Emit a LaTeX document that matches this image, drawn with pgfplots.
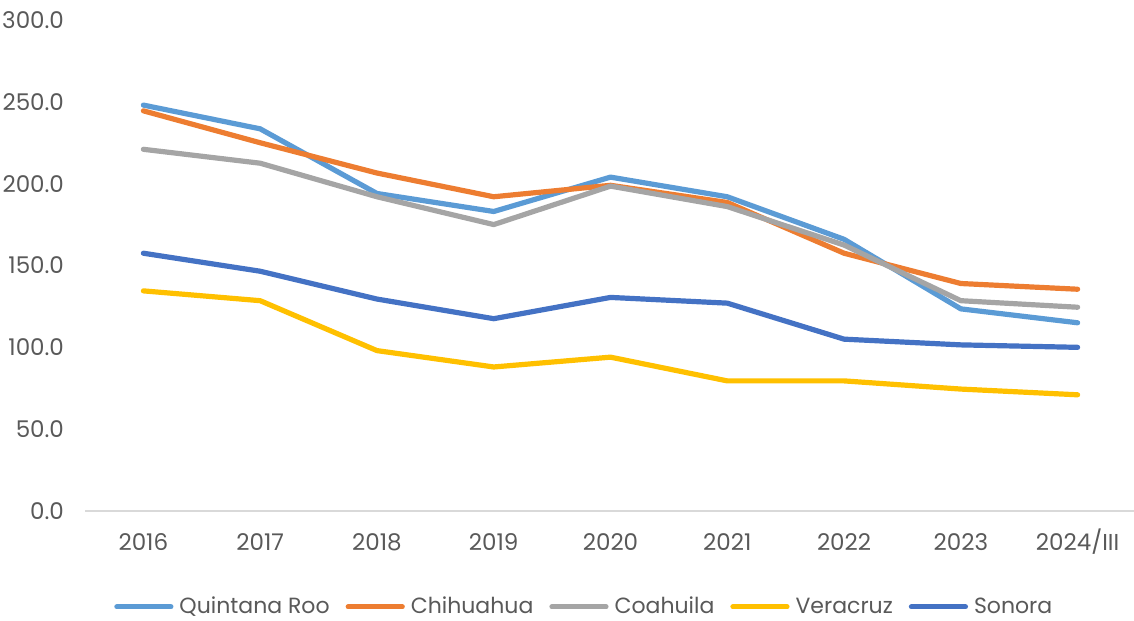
\documentclass[border=0pt]{standalone}
\usepackage{pgfplots}
\pgfplotsset{compat=1.18}
\usepackage{fontspec}
\setmainfont{Poppins}
\definecolor{txt}{RGB}{89,89,89}
\definecolor{qroo}{RGB}{91,155,213}
\definecolor{chih}{RGB}{237,125,49}
\definecolor{coah}{RGB}{165,165,165}
\definecolor{vera}{RGB}{255,192,0}
\definecolor{sono}{RGB}{68,114,196}
\definecolor{axl}{RGB}{217,217,217}
\begin{document}
\begin{tikzpicture}
\begin{axis}[name=ax,
  width=525.5pt, height=245.5pt, scale only axis,
  xmin=-0.5, xmax=8.5, ymin=0, ymax=300,
  xtick={0,...,8},
  xticklabels={2016,2017,2018,2019,2020,2021,2022,2023,2024/III},
  ytick={0,50,...,300},
  axis lines*=left,
  x axis line style={draw=axl, line width=0.8pt},
  y axis line style={draw=none},
  major tick length=0pt,
  tick label style={font=\fontsize{11.5}{13}\selectfont, text=txt},
  /pgf/number format/assume math mode=true,
  yticklabel={\pgfmathprintnumber[fixed,fixed zerofill,precision=1]{\tick}},
  yticklabel style={xshift=-7pt},
  xticklabel style={yshift=-7.5pt, text height=1.6ex, text depth=0pt},
  legend style={at={(axis description cs:0.476,-0.158)}, anchor=north, draw=none,
    font=\fontsize{11}{13}\selectfont, text=txt, legend columns=-1,
    /tikz/every odd column/.append style={column sep=1pt},
    /tikz/every even column/.append style={column sep=6pt}},
  legend image code/.code={\draw[#1, line cap=round] (0pt,0pt) -- (27pt,0pt);},
  every axis plot/.append style={line width=2.6pt, line join=round, line cap=round},
  clip=false,
]
\addplot[qroo] coordinates {(0,248) (1,233.5) (2,194) (3,183) (4,204) (5,192) (6,166) (7,123.5) (8,115)};
\addlegendentry{Quintana Roo}
\addplot[chih] coordinates {(0,244.5) (1,225) (2,206.5) (3,192) (4,199) (5,188.5) (6,157.5) (7,139) (8,135.5)};
\addlegendentry{Chihuahua}
\addplot[coah] coordinates {(0,221) (1,212.5) (2,192) (3,175) (4,198.5) (5,186) (6,162.5) (7,128.5) (8,124.5)};
\addlegendentry{Coahuila}
\addplot[vera] coordinates {(0,134.5) (1,128.5) (2,98) (3,88) (4,94) (5,79.5) (6,79.5) (7,74.5) (8,71)};
\addlegendentry{Veracruz}
\addplot[sono] coordinates {(0,157.5) (1,146.5) (2,129.5) (3,117.5) (4,130.5) (5,127) (6,105) (7,101.5) (8,100)};
\addlegendentry{Sonora}
\end{axis}
\pgfresetboundingbox
\path[use as bounding box] ([xshift=-42.5pt,yshift=-54.5pt]ax.south west) rectangle ([xshift=-1pt,yshift=10pt]ax.north east);
\end{tikzpicture}
\end{document}
